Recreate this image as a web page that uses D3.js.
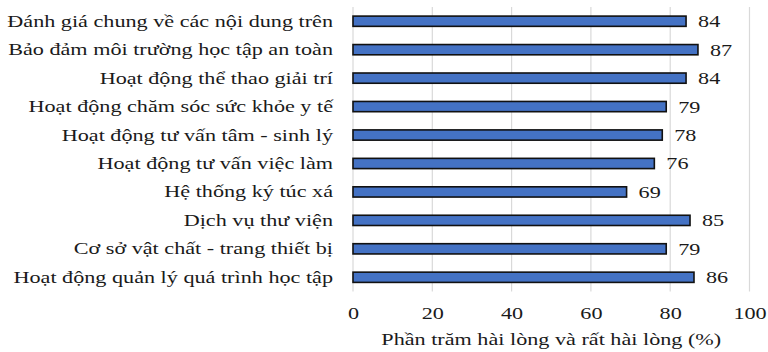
<!DOCTYPE html>
<html>
<head>
<meta charset="utf-8">
<script src="https://cdn.jsdelivr.net/npm/d3@7"></script>
<style>
  html, body { margin: 0; padding: 0; background: #fff; }
</style>
</head>
<body>
<svg id="chart" width="768" height="352"></svg>
<script>
// Survey items, top to bottom
const categories = [
  "Đánh giá chung về các nội dung trên",
  "Bảo đảm môi trường học tập an toàn",
  "Hoạt động thể thao giải trí",
  "Hoạt động chăm sóc sức khỏe y tế",
  "Hoạt động tư vấn tâm - sinh lý",
  "Hoạt động tư vấn việc làm",
  "Hệ thống ký túc xá ",
  "Dịch vụ thư viện",
  "Cơ sở vật chất - trang thiết bị",
  "Hoạt động quản lý quá trình học tập"
];
// Share satisfied or very satisfied (%)
const values = [84, 87, 84, 79, 78, 76, 69, 85, 79, 86];
const xTicks = [0, 20, 40, 60, 80, 100];
const xTitle = "Phần trăm hài lòng và rất hài lòng (%)";

const FONT = '"Liberation Serif", "Times New Roman", serif';
const FONT_SIZE = 17.2;
const TEXT_COLOR = "#1a1a1a";
const WIDE = 1.29; // horizontal widening of the lettering

const svg = d3.select("#chart").attr("font-family", FONT);
const plotLeft = 353, plotRight = 749.5, plotTop = 7, plotBottom = 291.5;

const x = d3.scaleLinear().domain([0, 100]).range([plotLeft, plotRight]);
const y = d3.scaleBand().domain(categories).range([plotTop, plotBottom]).paddingInner(0.64).paddingOuter(0.32);

function styleText(sel) {
  sel.attr("font-family", FONT)
     .attr("font-size", FONT_SIZE)
     .attr("fill", TEXT_COLOR);
}

// vertical gridlines
svg.append("g")
  .selectAll("line")
  .data(xTicks)
  .join("line")
  .attr("x1", d => x(d)).attr("x2", d => x(d))
  .attr("y1", plotTop).attr("y2", plotBottom)
  .attr("stroke", "#d9d9d9").attr("stroke-width", 1.2);

// x axis tick labels
const xAxis = d3.axisBottom(x).tickValues(xTicks).tickSize(0).tickPadding(0);
const gx = svg.append("g").attr("transform", `translate(0,${plotBottom + 15})`).call(xAxis);
gx.select(".domain").remove();
gx.attr("font-family", null).attr("font-size", null);
gx.selectAll("text").attr("dy", "0.71em").call(styleText);

// category labels
const yAxis = d3.axisLeft(y).tickSize(0).tickPadding(0);
const gy = svg.append("g").attr("transform", `translate(${plotLeft - 20},0)`).call(yAxis);
gy.select(".domain").remove();
gy.attr("font-family", null).attr("font-size", null);
gy.selectAll("text").call(styleText);

// bars
svg.append("g")
  .selectAll("rect")
  .data(values)
  .join("rect")
  .attr("x", x(0))
  .attr("y", (d, i) => y(categories[i]))
  .attr("width", d => x(d) - x(0))
  .attr("height", y.bandwidth())
  .attr("fill", "#4472c4")
  .attr("stroke", "#111")
  .attr("stroke-width", 1.6);

// value labels
svg.append("g")
  .selectAll("text")
  .data(values)
  .join("text")
  .attr("x", d => x(d) + 12)
  .attr("y", (d, i) => y(categories[i]) + y.bandwidth() / 2)
  .attr("dy", "0.35em")
  .call(styleText)
  .text(d => d);

// axis title
svg.append("text")
  .attr("x", (plotLeft + plotRight) / 2)
  .attr("y", 344.5)
  .attr("text-anchor", "middle")
  .call(styleText)
  .text(xTitle);

// widen every label to the wide lettering of the chart
svg.selectAll("text").each(function () {
  const w = this.getComputedTextLength();
  if (w > 0) {
    d3.select(this)
      .attr("textLength", w * WIDE)
      .attr("lengthAdjust", "spacingAndGlyphs");
  }
});
</script>
</body>
</html>
